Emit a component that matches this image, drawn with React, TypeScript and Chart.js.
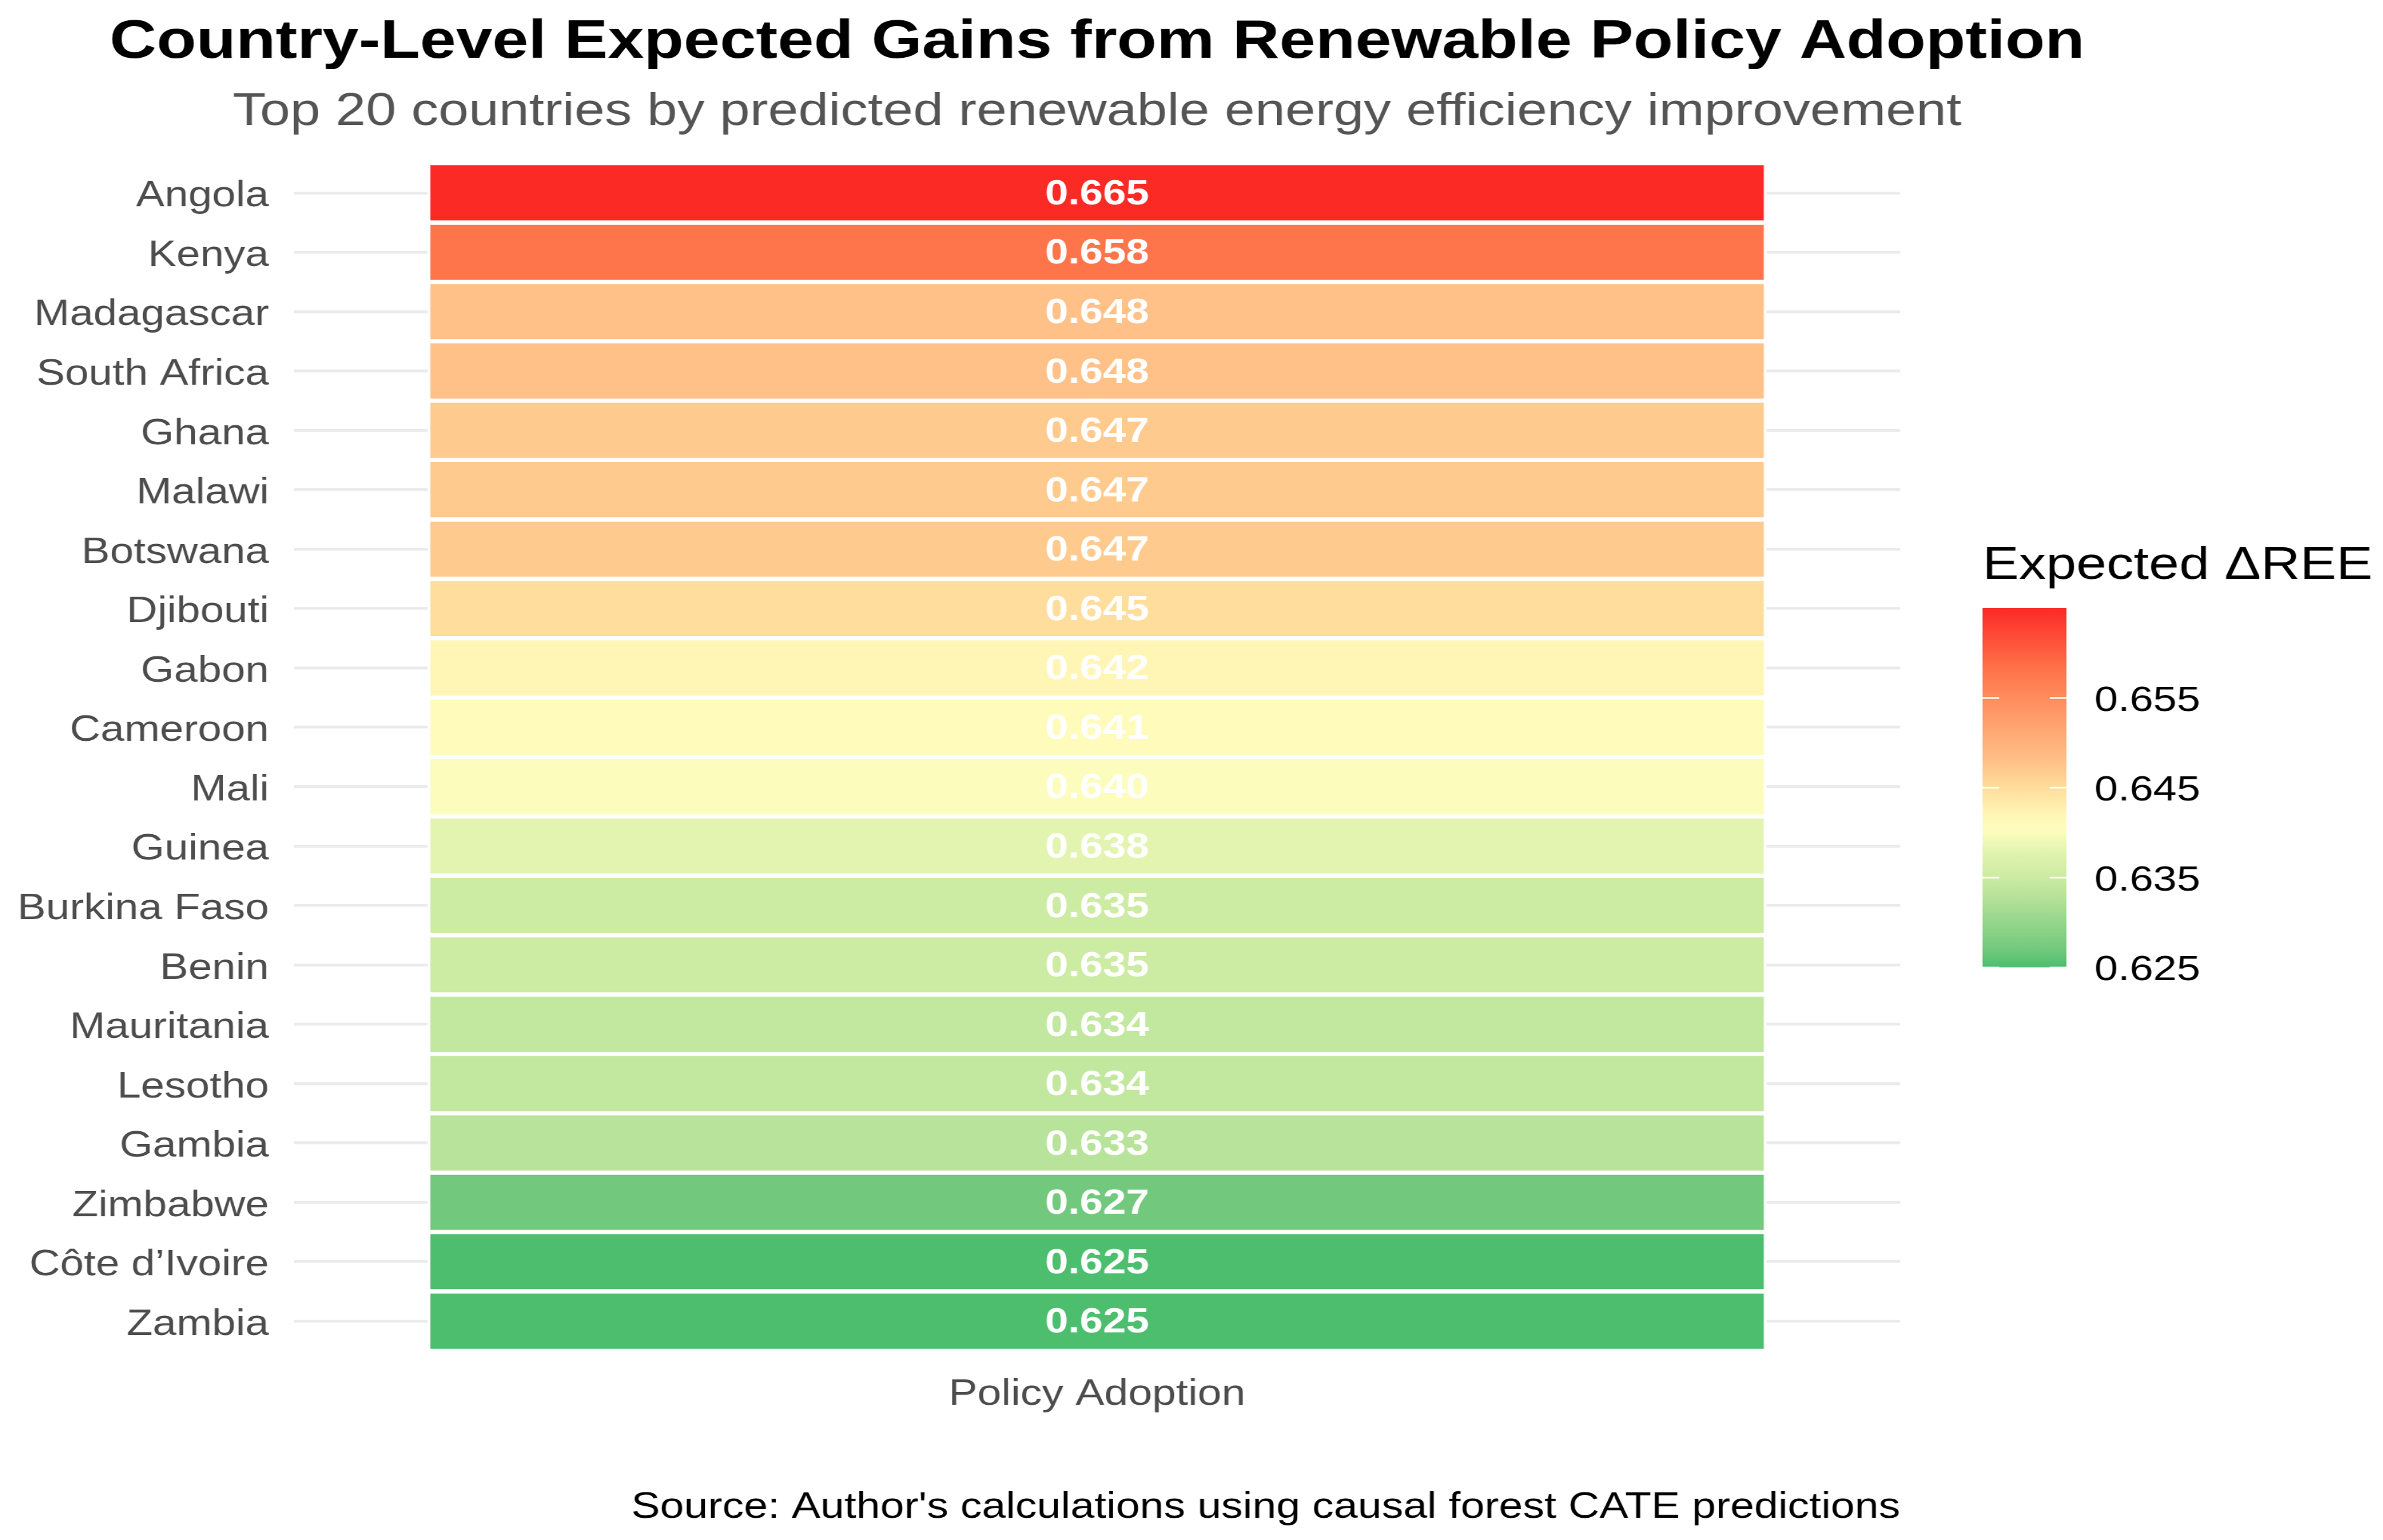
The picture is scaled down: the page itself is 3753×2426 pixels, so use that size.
import React, { useEffect, useRef } from "react";
import { Chart, registerables } from "chart.js";

Chart.register(...registerables);

const TITLE = "Country-Level Expected Gains from Renewable Policy Adoption";
const SUBTITLE = "Top 20 countries by predicted renewable energy efficiency improvement";
const CAPTION = "Source: Author's calculations using causal forest CATE predictions";
const X_LABEL = "Policy Adoption";
const LEGEND_TITLE = "Expected \u0394REE";

const COUNTRIES = [
  "Angola", "Kenya", "Madagascar", "South Africa", "Ghana", "Malawi", "Botswana",
  "Djibouti", "Gabon", "Cameroon", "Mali", "Guinea", "Burkina Faso", "Benin",
  "Mauritania", "Lesotho", "Gambia", "Zimbabwe", "C\u00f4te d\u2019Ivoire", "Zambia",
];
const VALUES = [
  0.665, 0.658, 0.648, 0.648, 0.647, 0.647, 0.647,
  0.645, 0.642, 0.641, 0.640, 0.638, 0.635, 0.635,
  0.634, 0.634, 0.633, 0.627, 0.625, 0.625,
];
const LEGEND_TICKS = [0.625, 0.635, 0.645, 0.655];

// colour scale (value -> colour)
const COLOR_STOPS: [number, string][] = [
  [0.625, "#4CBE6E"],
  [0.627, "#72C97D"],
  [0.633, "#B8E39A"],
  [0.635, "#CCEBA3"],
  [0.638, "#E3F4B1"],
  [0.640, "#FCFDBD"],
  [0.641, "#FFFBBB"],
  [0.642, "#FFF6B6"],
  [0.645, "#FFDD9C"],
  [0.648, "#FFC187"],
  [0.658, "#FF754B"],
  [0.665, "#FC2A25"],
];

// canvas is drawn narrower and stretched horizontally, like the reference
const CANVAS_W = 3154;
const CANVAS_H = 2426;
const CSS_W = 3753;

function hexToRgb(h: string) {
  const n = parseInt(h.slice(1), 16);
  return [(n >> 16) & 255, (n >> 8) & 255, n & 255];
}
function colorFor(v: number) {
  const s = COLOR_STOPS;
  if (v <= s[0][0]) return s[0][1];
  if (v >= s[s.length - 1][0]) return s[s.length - 1][1];
  for (let i = 0; i < s.length - 1; i++) {
    const [a, ca] = s[i];
    const [b, cb] = s[i + 1];
    if (v >= a && v <= b) {
      const t = (v - a) / (b - a);
      const A = hexToRgb(ca), B = hexToRgb(cb);
      const c = A.map((x, k) => Math.round(x + (B[k] - x) * t));
      return `rgb(${c[0]},${c[1]},${c[2]})`;
    }
  }
  return s[0][1];
}

const FONT = "'Liberation Sans', Arial, Helvetica, sans-serif";

const headings = {
  id: "headings",
  afterDraw(chart: any) {
    const ctx = chart.ctx;
    const cx = (chart.chartArea.left + chart.chartArea.right) / 2;
    ctx.save();
    ctx.textAlign = "center";
    ctx.textBaseline = "alphabetic";
    ctx.fillStyle = "#000000";
    ctx.font = `bold 86px ${FONT}`;
    ctx.fillText(TITLE, cx, 91);
    ctx.fillStyle = "#555555";
    ctx.font = `72px ${FONT}`;
    ctx.fillText(SUBTITLE, cx, 197);
    ctx.restore();
  },
};

const tileLabels = {
  id: "tileLabels",
  afterDatasetsDraw(chart: any) {
    const ctx = chart.ctx;
    const meta = chart.getDatasetMeta(0);
    ctx.save();
    ctx.fillStyle = "#FFFFFF";
    ctx.font = `bold 55px ${FONT}`;
    ctx.textAlign = "center";
    ctx.textBaseline = "middle";
    meta.data.forEach((bar: any, i: number) => {
      const p = bar.getProps(["x", "y", "base"], true);
      ctx.fillText(VALUES[i].toFixed(3), (p.x + p.base) / 2, p.y + 3);
    });
    ctx.restore();
  },
};

const colorBar = {
  id: "colorBar",
  afterDraw(chart: any) {
    const ctx = chart.ctx;
    const min = Math.min(...VALUES);
    const max = Math.max(...VALUES);
    const left = 2624, right = 2735, top = 958, bottom = 1524;
    const yOf = (v: number) => bottom - ((v - min) / (max - min)) * (bottom - top);
    ctx.save();
    ctx.fillStyle = "#000000";
    ctx.font = `72px ${FONT}`;
    ctx.textAlign = "left";
    ctx.textBaseline = "middle";
    ctx.fillText(LEGEND_TITLE, 2624, 892);
    const g = ctx.createLinearGradient(0, bottom, 0, top);
    COLOR_STOPS.forEach(([v, c]) => {
      const o = Math.max(0, Math.min(1, (v - min) / (max - min)));
      g.addColorStop(o, c);
    });
    ctx.fillStyle = g;
    ctx.fillRect(left, top, right - left, bottom - top);
    ctx.strokeStyle = "#FFFFFF";
    ctx.lineWidth = 2.5;
    LEGEND_TICKS.forEach((v) => {
      const y = yOf(v);
      ctx.beginPath();
      ctx.moveTo(left, y);
      ctx.lineTo(left + 22, y);
      ctx.moveTo(right - 22, y);
      ctx.lineTo(right, y);
      ctx.stroke();
    });
    ctx.fillStyle = "#000000";
    ctx.font = `56px ${FONT}`;
    LEGEND_TICKS.forEach((v) => {
      ctx.fillText(v.toFixed(3), 2772, yOf(v) + 5);
    });
    ctx.restore();
  },
};

export default function App() {
  const ref = useRef<HTMLCanvasElement | null>(null);
  useEffect(() => {
    document.body.style.margin = "0";
    document.body.style.overflow = "hidden";
    if (!ref.current) return;
    const chart = new Chart(ref.current, {
      type: "bar",
      data: {
        labels: COUNTRIES,
        datasets: [
          {
            data: COUNTRIES.map((c) => ({ y: c, x: [0.5, 1.5] })) as any,
            backgroundColor: VALUES.map(colorFor),
            borderColor: "#FFFFFF",
            borderWidth: 3.7,
            borderSkipped: false,
            barPercentage: 1,
            categoryPercentage: 1,
          },
        ],
      },
      options: {
        indexAxis: "y",
        responsive: false,
        animation: false,
        devicePixelRatio: 1,
        events: [],
        layout: { padding: { left: 0, right: 639, top: 257, bottom: 0 } },
        plugins: {
          legend: { display: false },
          tooltip: { enabled: false },
          title: { display: false },
          subtitle: { display: false },
        },
        scales: {
          x: {
            type: "linear",
            min: 0.4,
            max: 1.6,
            afterBuildTicks: (s: any) => {
              s.ticks = [{ value: 1 }];
            },
            afterFit: (s: any) => {
              s.height = 298;
            },
            ticks: {
              callback: () => X_LABEL,
              color: "#4D4D4D",
              font: { family: FONT, size: 57, lineHeight: 1 },
              padding: 41,
              maxRotation: 0,
            },
            grid: { color: "#EBEBEB", lineWidth: 4, drawTicks: false },
            border: { display: false },
            title: {
              display: true,
              text: CAPTION,
              align: "end",
              color: "#000000",
              font: { family: FONT, size: 57, lineHeight: 1 },
              padding: { top: 0, bottom: 22 },
            },
          },
          y: {
            type: "category",
            afterFit: (s: any) => {
              s.width = 389;
            },
            ticks: {
              color: "#4D4D4D",
              font: { family: FONT, size: 56.5, lineHeight: 1 },
              padding: 33,
              labelOffset: 6,
              autoSkip: false,
            },
            grid: { color: "#EBEBEB", lineWidth: 4.5, offset: false, drawTicks: false },
            border: { display: false },
          },
        },
      } as any,
      plugins: [tileLabels, colorBar, headings],
    });
    return () => chart.destroy();
  }, []);
  return (
    <div style={{ width: CSS_W, height: CANVAS_H, overflow: "hidden", background: "#FFFFFF" }}>
      <canvas
        ref={ref}
        width={CANVAS_W}
        height={CANVAS_H}
        style={{ width: `${CSS_W}px`, height: `${CANVAS_H}px`, display: "block" }}
      />
    </div>
  );
}
